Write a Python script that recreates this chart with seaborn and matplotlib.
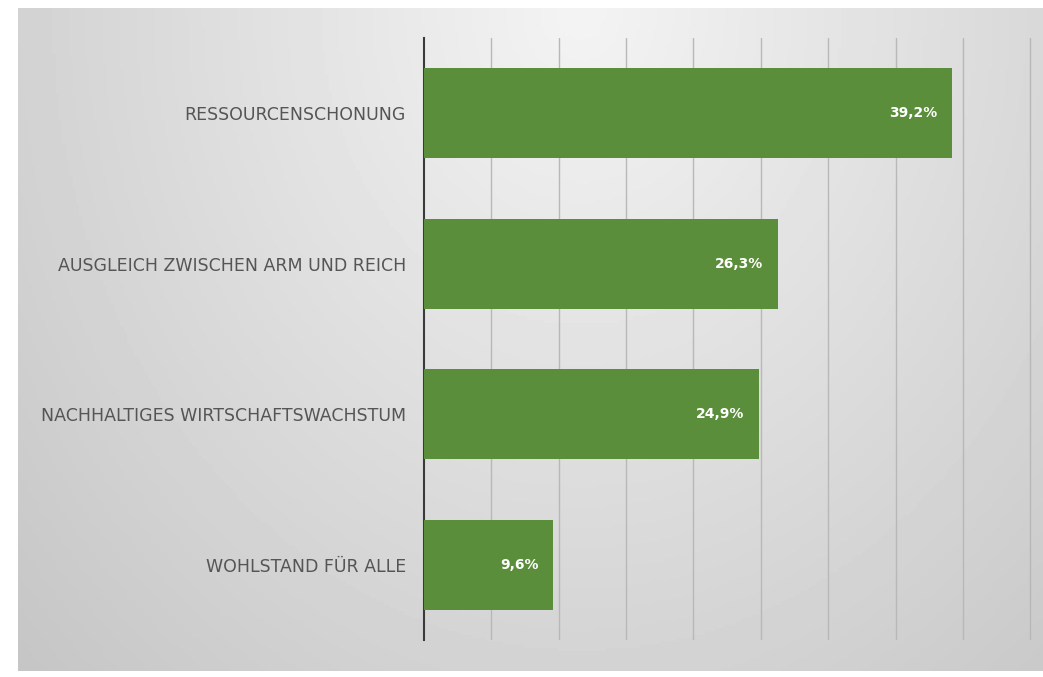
import numpy as np
import pandas as pd
import matplotlib
matplotlib.use("Agg")
import matplotlib.pyplot as plt
import seaborn as sns

categories = ["RESSOURCENSCHONUNG", "AUSGLEICH ZWISCHEN ARM UND REICH",
              "NACHHALTIGES WIRTSCHAFTSWACHSTUM", "WOHLSTAND FÜR ALLE"]
values = [39.2, 26.3, 24.9, 9.6]
value_labels = ["39,2%", "26,3%", "24,9%", "9,6%"]

df = pd.DataFrame({"cat": categories, "val": values})

sns.set_theme(style="white")
plt.rcParams['font.family'] = ['DejaVu Sans']

W, H = 1043, 677
fig = plt.figure(figsize=(W / 100, H / 100), dpi=100)
fig.patch.set_facecolor("white")

# background panel with soft gradient
bx0, by0, bx1, by1 = 18, 8, 1043, 671
bg = fig.add_axes([bx0 / W, 1 - by1 / H, (bx1 - bx0) / W, (by1 - by0) / H])
gx, gy = np.meshgrid(np.linspace(0, 1, 300), np.linspace(0, 1, 200))
d = np.sqrt(((gx - 0.55) / 0.8) ** 2 + ((gy - 0.0) / 1.5) ** 2)
img = 0.955 - 0.19 * np.clip(d, 0, 1.3)
bg.imshow(img, cmap="gray", vmin=0, vmax=1, aspect="auto", extent=[0, 1, 1, 0])
bg.set_axis_off()
bg.set_zorder(0)

ax_l, ax_r, ax_t, ax_b = 424, 1037, 38, 640
ax = fig.add_axes([ax_l / W, 1 - ax_b / H, (ax_r - ax_l) / W, (ax_b - ax_t) / H])
ax.set_zorder(1)
ax.patch.set_alpha(0)

sns.barplot(data=df, x="val", y="cat", orient="h", color="#5b8e3b",
            saturation=1, width=0.6, ax=ax, edgecolor="none", zorder=3)

ax.set_xlim(0, 45.5)
ax.set_xticks(np.arange(5, 46, 5))
ax.xaxis.grid(True, color="#b8b8b8", linewidth=1.0, zorder=0)
ax.set_axisbelow(True)
ax.tick_params(axis="x", length=0, labelbottom=False)
ax.tick_params(axis="y", length=0, pad=13, labelsize=12.5, labelcolor="#555555")
ax.set_xlabel("")
ax.set_ylabel("")
for s in ["top", "right", "bottom"]:
    ax.spines[s].set_visible(False)
ax.spines["left"].set_color("#3a3a3a")
ax.spines["left"].set_linewidth(1.5)

for i, (v, lab) in enumerate(zip(values, value_labels)):
    ax.text(v - 1.1, i, lab, ha="right", va="center", color="white",
            fontsize=10, fontweight="bold", zorder=5)

fig.savefig("out.png", dpi=100)
